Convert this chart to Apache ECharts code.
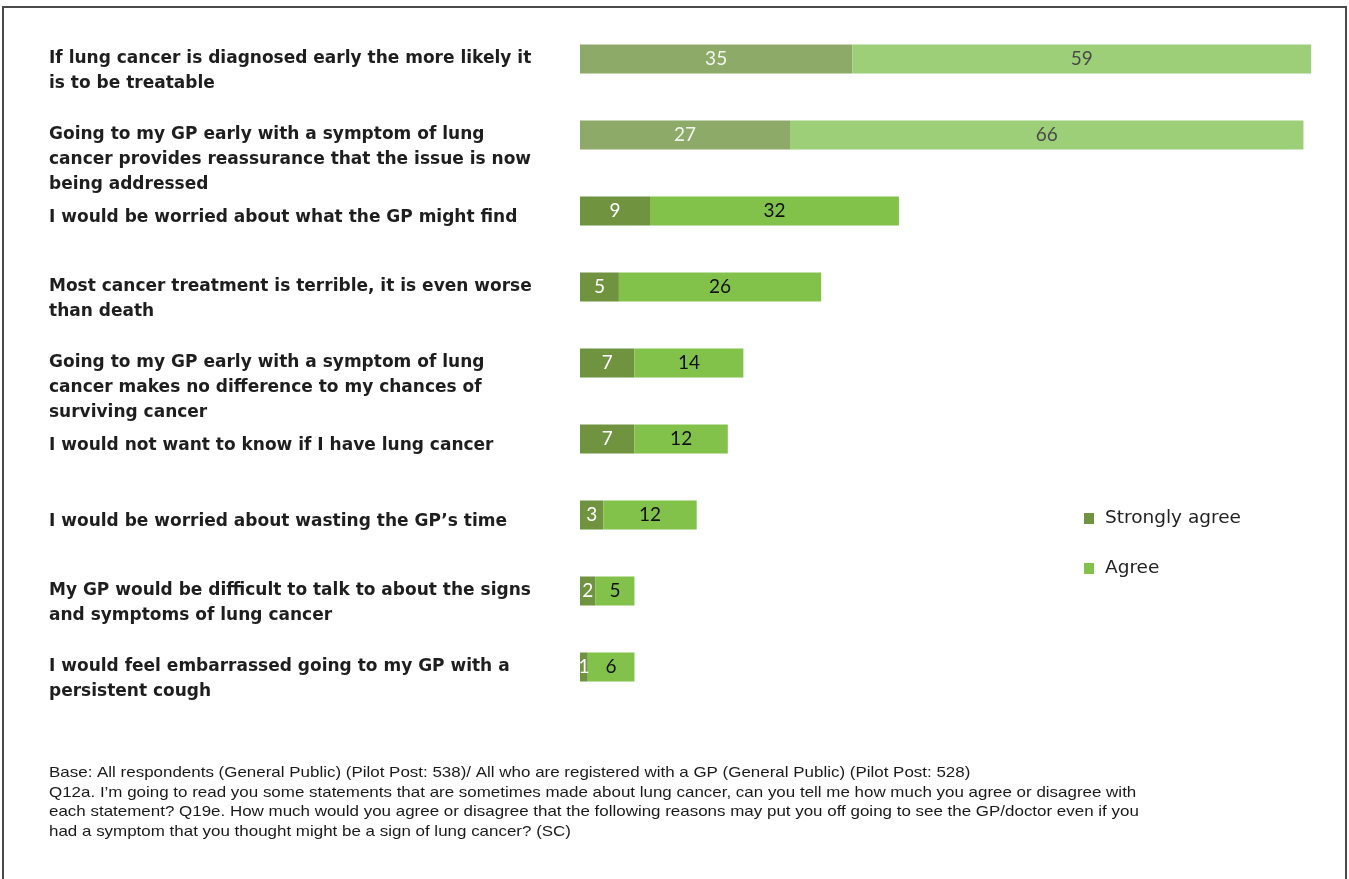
<!DOCTYPE html>
<html>
<head>
<meta charset="utf-8">
<script src="https://cdn.jsdelivr.net/npm/echarts@6/dist/echarts.min.js"></script>
<style>
  html, body { margin: 0; padding: 0; background: #fff; }
  #chart { width: 1349px; height: 879px; }
</style>
</head>
<body>
<div id="chart"></div>
<script>
// ---- Data ----
const categories = [
  "If lung cancer is diagnosed early the more likely it\nis to be treatable",
  "Going to my GP early with a symptom of lung\ncancer provides reassurance that the issue is now\nbeing addressed",
  "I would be worried about what the GP might find",
  "Most cancer treatment is terrible, it is even worse\nthan death",
  "Going to my GP early with a symptom of lung\ncancer makes no difference to my chances of\nsurviving cancer",
  "I would not want to know if I have lung cancer",
  "I would be worried about wasting the GP\u2019s time",
  "My GP would be difficult to talk to about the signs\nand symptoms of lung cancer",
  "I would feel embarrassed going to my GP with a\npersistent cough"
];
const stronglyAgree = [35, 27, 9, 5, 7, 7, 3, 2, 1];
const agree = [59, 66, 32, 26, 14, 12, 12, 5, 6];
const seriesNames = ["Strongly agree", "Agree"];
const footnoteLines = [
  "Base: All respondents (General Public) (Pilot Post: 538)/ All who are registered with a GP (General Public) (Pilot Post: 528)",
  "Q12a. I\u2019m going to read you some statements that are sometimes made about lung cancer, can you tell me how much you agree or disagree with",
  "each statement? Q19e. How much would you agree or disagree that the following reasons may put you off going to see the GP/doctor even if you",
  "had a symptom that you thought might be a sign of lung cancer? (SC)"
];

// ---- Styles ----
const DARK = '#6F933F', LIGHT = '#82C24B';
const DARK_FADED = '#8DAA68', LIGHT_FADED = '#9DCE78';
const fadedCount = 2;
const LABEL_FONT = '"DejaVu Sans", Verdana, sans-serif';

function mkData(vals, faded, normal, lblFaded, lblNormal) {
  return vals.map((v, i) => ({
    value: v,
    itemStyle: { color: i < fadedCount ? faded : normal },
    label: { color: i < fadedCount ? lblFaded : lblNormal }
  }));
}

const chart = echarts.init(document.getElementById('chart'), null, { renderer: 'canvas' });
const option = {
  backgroundColor: '#ffffff',
  animation: false,
  grid: { left: 580, top: 21, height: 684, width: 739 },
  xAxis: { type: 'value', min: 0, max: 95, show: false },
  yAxis: {
    type: 'category',
    inverse: true,
    data: categories,
    axisLine: { show: false },
    axisTick: { show: false },
    axisLabel: {
      interval: 0,
      align: 'left',
      margin: 531,
      verticalAlign: 'middle',
      fontFamily: LABEL_FONT,
      fontWeight: 'bold',
      fontSize: 17,
      lineHeight: 25,
      color: '#1e1e1e',
      rich: {
        one: {
          fontFamily: LABEL_FONT,
          fontWeight: 'bold',
          fontSize: 17,
          lineHeight: 25,
          color: '#1e1e1e',
          padding: [14, 0, 0, 0]
        }
      },
      formatter: function (v) {
        const n = v.split('\n').length;
        if (n === 1) return '{one|' + v + '}';
        return '\n'.repeat(n - 1) + v;
      }
    }
  },
  legend: {
    orient: 'vertical',
    left: 1079,
    top: 504,
    itemGap: 31,
    itemWidth: 10,
    itemHeight: 11,
    icon: 'rect',
    textStyle: { fontFamily: LABEL_FONT, fontSize: 18.5, color: '#222', padding: [0, 0, 0, 6] },
    data: seriesNames
  },
  series: [
    {
      name: seriesNames[0], type: 'bar', stack: 'total', barWidth: 29,
      color: DARK,
      label: { show: true, position: 'inside', fontFamily: 'Lato, "Open Sans", sans-serif', fontSize: 19 },
      data: mkData(stronglyAgree, DARK_FADED, DARK, '#f2f5ee', '#ffffff')
    },
    {
      name: seriesNames[1], type: 'bar', stack: 'total', barWidth: 29,
      color: LIGHT,
      label: { show: true, position: 'inside', fontFamily: 'Lato, "Open Sans", sans-serif', fontSize: 19 },
      data: mkData(agree, LIGHT_FADED, LIGHT, '#4a4a4a', '#111111')
    }
  ],
  graphic: [
    {
      type: 'rect', silent: true,
      shape: { x: 3, y: 7, width: 1343, height: 885 },
      style: { fill: 'none', stroke: '#4a4a4a', lineWidth: 2 }
    },
    {
      type: 'text', x: 49, y: 763, silent: true,
      scaleX: 1.13,
      style: {
        text: footnoteLines.join('\n'),
        font: '15px "Liberation Sans", Arial, sans-serif',
        lineHeight: 19.7,
        fill: '#1a1a1a'
      }
    }
  ]
};
chart.setOption(option);
</script>
</body>
</html>
